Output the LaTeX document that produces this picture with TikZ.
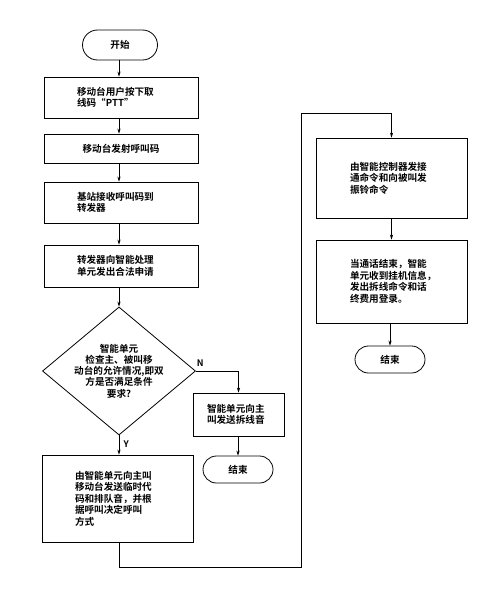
\documentclass[tikz,border=0pt]{standalone}
\usepackage{fontspec}
\setmainfont{Noto Sans CJK SC}[BoldFont={Noto Sans CJK SC Bold}]
\usetikzlibrary{shapes.geometric,shapes.misc,arrows.meta}
\tikzset{
  every node/.style={font=\fontsize{9.6pt}{11.5pt}\selectfont\bfseries},
  line/.style={line width=0.8pt},
  arr/.style={line width=0.8pt,-{Stealth[length=5pt,width=3.2pt]}},
  boxl/.style={draw,line width=0.8pt,rectangle,align=left,minimum height=#1},
  term/.style={draw,line width=0.8pt,rounded rectangle,minimum width=70pt,minimum height=27pt,inner sep=0pt},
  dia/.style={draw,line width=0.8pt,diamond,minimum width=153pt,minimum height=128pt,inner sep=0pt},
  lbl/.style={font=\fontsize{9pt}{10pt}\selectfont\bfseries}
}
\begin{document}
\begin{tikzpicture}[x=1pt,y=-1pt]
\useasboundingbox (0,0) rectangle (500,602);
% left column
\node[term,minimum width=75pt,minimum height=30pt] (s) at (120,45) {开始};
\node[boxl=41pt,text width=88pt,inner xsep=33pt] (b1) at (121,97.5) {移动台用户按下取\\线码“PTT”};
\node[draw,line width=0.8pt,rectangle,minimum width=154pt,minimum height=29pt,inner sep=0pt] (b2) at (121,148.5) {移动台发射呼叫码};
\node[boxl=41pt,text width=88pt,inner xsep=33pt] (b3) at (121,202.5) {基站接收呼叫码到\\转发器};
\node[boxl=42pt,text width=88pt,inner xsep=33pt] (b4) at (121,266) {转发器向智能处理\\单元发出合法申请};
\node[dia] (d) at (119,371) {};
\node[align=center,inner sep=0pt,font=\fontsize{9.6pt}{11.3pt}\selectfont\bfseries] (dt) at (d.center) {智能单元\\检查主、被叫移\\动台的允许情况,即双\\方是否满足条件\\要求?};
\node[boxl=87pt,text width=85pt,inner xsep=33pt] (bb) at (117.5,498.5) {由智能单元向主叫\\移动台发送临时代\\码和排队音，并根\\据呼叫决定呼叫\\方式};
% N branch
\node[boxl=43pt,text width=63pt,inner xsep=14pt] (nb) at (238.5,414.5) {智能单元向主\\叫发送拆线音};
\node[term] (e1) at (238,469.5) {结束};
% right column
\node[boxl=80pt,text width=83pt,inner xsep=34pt] (r1) at (391.5,178) {由智能控制器发接\\通命令和向被叫发\\振铃命令};
\node[boxl=83pt,text width=83pt,inner xsep=34pt] (r2) at (391.5,281.5) {当通话结束，智能\\单元收到挂机信息，\\发出拆线命令和话\\终费用登录。};
\node[term] (e2) at (390,359.5) {结束};
% connectors
\draw[arr] (s.south -| 119,0) -- (b1.north -| 119,0);
\draw[arr] (b1.south -| 119,0) -- (b2.north -| 119,0);
\draw[arr] (b2.south -| 119,0) -- (b3.north -| 119,0);
\draw[arr] (b3.south -| 119,0) -- (b4.north -| 119,0);
\draw[arr] (b4.south -| d.north) -- (d.north);
\draw[arr] (d.south) -- (bb.north -| d.south) node[lbl,pos=0.45,right=1pt] (ly) {Y};
\draw[arr] (d.east) -| (nb.north) node[lbl,pos=0.05,above=1pt] (ln) {N};
\draw[arr] (nb.south -| e1.north) -- (e1.north);
\coordinate (c1) at (301,567);
\coordinate (c2) at (301,113);
\draw[arr] (bb.south -| d.south) |- (c1) -- (c2) -| (r1.north);
\draw[arr] (r1.south) -- (r2.north);
\draw[arr] (r2.south -| e2.north) -- (e2.north);
\end{tikzpicture}
\end{document}
